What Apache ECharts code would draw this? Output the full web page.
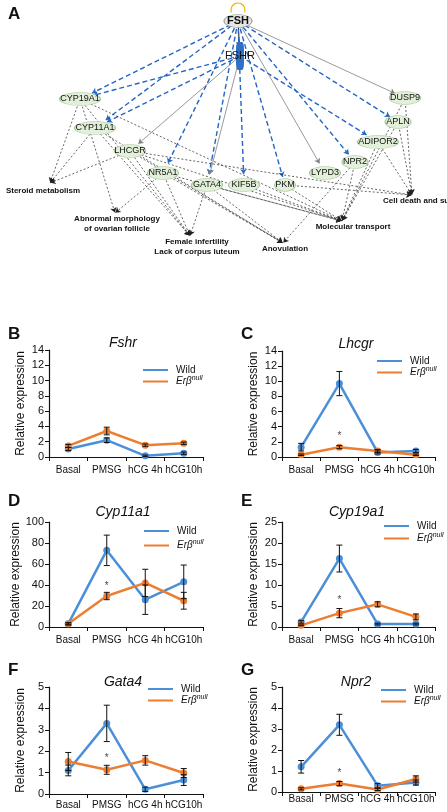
<!DOCTYPE html>
<html><head><meta charset="utf-8">
<script src="https://cdn.jsdelivr.net/npm/echarts/dist/echarts.min.js"></script>
<style>html,body{margin:0;padding:0;background:#fff}#c{width:447px;height:812px}</style>
</head><body><div id="c"></div>
<script>
// ---------- DATA ----------
const categories = ['Basal', 'PMSG', 'hCG 4h', 'hCG10h'];
const seriesNames = ['Wild', 'Erβnull'];

const fshrWild = [1.05, 2.2, 0.15, 0.5];
const fshrWildErr = [0.2, 0.3, 0.1, 0.15];
const fshrNull = [1.45, 3.4, 1.55, 1.8];
const fshrNullErr = [0.2, 0.5, 0.15, 0.15];

const lhcgrWild = [1.3, 9.7, 0.6, 0.8];
const lhcgrWildErr = [0.5, 1.6, 0.2, 0.2];
const lhcgrNull = [0.3, 1.3, 0.8, 0.3];
const lhcgrNullErr = [0.1, 0.2, 0.2, 0.1];

const cyp11Wild = [3, 73, 26, 43];
const cyp11WildErr = [1, 14.5, 14, 16];
const cyp11Null = [3, 29.5, 42, 25];
const cyp11NullErr = [1, 3.5, 13, 8];

const cyp19Wild = [1.2, 16.3, 0.7, 0.7];
const cyp19WildErr = [0.3, 3.2, 0.2, 0.2];
const cyp19Null = [0.4, 3.3, 5.4, 2.4];
const cyp19NullErr = [0.1, 1.1, 0.6, 0.7];

const gata4Wild = [1.1, 3.3, 0.22, 0.65];
const gata4WildErr = [0.25, 0.85, 0.1, 0.25];
const gata4Null = [1.52, 1.13, 1.57, 0.98];
const gata4NullErr = [0.42, 0.21, 0.22, 0.21];

const npr2Wild = [1.2, 3.2, 0.3, 0.45];
const npr2WildErr = [0.3, 0.5, 0.1, 0.12];
const npr2Null = [0.15, 0.4, 0.12, 0.62];
const npr2NullErr = [0.05, 0.1, 0.05, 0.15];

const panelTitles = ['Fshr', 'Lhcgr', 'Cyp11a1', 'Cyp19a1', 'Gata4', 'Npr2'];
const panelLetters = ['B', 'C', 'D', 'E', 'F', 'G'];
const yMaxes = [14, 14, 100, 25, 5, 5];
const yIntervals = [2, 2, 20, 5, 1, 1];
const starValues = [null, 2.7, 39, 6.4, 1.68, 0.9];
const starCategory = 1;

// network
const geneNodes = ['FSH', 'FSHR', 'CYP19A1', 'CYP11A1', 'LHCGR', 'NR5A1', 'GATA4', 'KIF5B', 'PKM', 'LYPD3', 'NPR2', 'ADIPOR2', 'APLN', 'DUSP9'];
const geneX = [238, 240, 80, 95, 130, 163, 207, 244, 285, 325, 355, 378, 398, 405];
const geneY = [21, 56, 99, 128, 151, 173, 185, 185, 185, 173, 162, 142, 122, 98];
const fnNodes = ['Steroid metabolism', 'Abnormal morphology\nof ovarian follicle', 'Female infertility\nLack of corpus luteum', 'Anovulation', 'Molecular transport', 'Cell death and survival'];
const fnX = [50, 115, 190, 283, 342, 412];
const fnY = [183, 213, 236, 243, 221, 195];
const blueEdges = [['FSH','CYP19A1'],['FSH','CYP11A1'],['FSHR','CYP19A1'],['FSHR','CYP11A1'],['FSH','NR5A1'],['FSH','GATA4'],['FSH','KIF5B'],['FSH','PKM'],['FSH','NPR2'],['FSHR','ADIPOR2'],['FSH','APLN']];
const grayEdges = [['FSH','DUSP9'],['FSH','LYPD3'],['FSHR','LHCGR'],['FSHR','GATA4']];
const fnEdges = [
  ['CYP19A1','Steroid metabolism'],['CYP19A1','Abnormal morphology\nof ovarian follicle'],['CYP19A1','Female infertility\nLack of corpus luteum'],['CYP19A1','Molecular transport'],
  ['CYP11A1','Steroid metabolism'],['CYP11A1','Female infertility\nLack of corpus luteum'],['CYP11A1','Anovulation'],
  ['LHCGR','Steroid metabolism'],['LHCGR','Female infertility\nLack of corpus luteum'],['LHCGR','Anovulation'],['LHCGR','Molecular transport'],['LHCGR','Cell death and survival'],
  ['NR5A1','Abnormal morphology\nof ovarian follicle'],['NR5A1','Female infertility\nLack of corpus luteum'],['NR5A1','Anovulation'],['NR5A1','Molecular transport'],
  ['GATA4','Female infertility\nLack of corpus luteum'],['GATA4','Anovulation'],['GATA4','Molecular transport'],
  ['KIF5B','Molecular transport'],['PKM','Cell death and survival'],['PKM','Molecular transport'],
  ['NPR2','Anovulation'],['NPR2','Molecular transport'],['ADIPOR2','Molecular transport'],['ADIPOR2','Cell death and survival'],
  ['APLN','Cell death and survival'],['APLN','Molecular transport'],['DUSP9','Cell death and survival'],['DUSP9','Molecular transport']
];

// ---------- BUILD ----------
const panelData = [
  [fshrWild, fshrWildErr, fshrNull, fshrNullErr],
  [lhcgrWild, lhcgrWildErr, lhcgrNull, lhcgrNullErr],
  [cyp11Wild, cyp11WildErr, cyp11Null, cyp11NullErr],
  [cyp19Wild, cyp19WildErr, cyp19Null, cyp19NullErr],
  [gata4Wild, gata4WildErr, gata4Null, gata4NullErr],
  [npr2Wild, npr2WildErr, npr2Null, npr2NullErr]
];
const layout = [
  {left: 49, top: 350, width: 154, height: 107},
  {left: 282, top: 351, width: 153, height: 106},
  {left: 49, top: 522, width: 154, height: 105},
  {left: 282, top: 522, width: 153, height: 105},
  {left: 49, top: 687, width: 154, height: 107},
  {left: 282, top: 687, width: 153, height: 105}
];
const xLabelMargin = [8, 8, 8, 8, 6, 2];
const titleX = [118, 351, 118, 352, 118, 351];
const titleCY = [339, 340, 508, 508, 678, 678];
const letterX = [3, 236, 3, 236, 3, 236];
const letterCY = [331, 331, 498, 498, 667, 667];
const legendX = [143, 377, 144, 384, 148, 381];
const legendCY = [371, 362, 532, 527, 690, 691];
const legendGap = [0, 0, 3, 1, 0, 0];

const BLUE = '#4b8fd8', ORANGE = '#ED7D31';
const FONT = 'Liberation Sans, Arial, sans-serif';

const grids = [{left: 0, top: 0, width: 447, height: 265}];
const xAxes = [{type: 'value', gridIndex: 0, min: 0, max: 447, show: false}];
const yAxes = [{type: 'value', gridIndex: 0, min: 0, max: 265, inverse: true, show: false}];
const titles = [{text: 'A', left: 3, top: 1, textStyle: {fontSize: 17, fontWeight: 'bold', color: '#111', fontFamily: FONT}}];
const legends = [];
const series = [];

function errRender(params, api) {
  const xi = api.value(0);
  const lo = api.coord([xi, api.value(1)]);
  const hi = api.coord([xi, api.value(2)]);
  const hw = 3;
  const st = {stroke: '#111', lineWidth: 1};
  return {type: 'group', children: [
    {type: 'line', shape: {x1: lo[0], y1: lo[1], x2: hi[0], y2: hi[1]}, style: st},
    {type: 'line', shape: {x1: hi[0] - hw, y1: hi[1], x2: hi[0] + hw, y2: hi[1]}, style: st},
    {type: 'line', shape: {x1: lo[0] - hw, y1: lo[1], x2: lo[0] + hw, y2: lo[1]}, style: st}
  ]};
}

panelData.forEach((pd, i) => {
  const gi = i + 1;
  const L = layout[i];
  grids.push({left: L.left, top: L.top, width: L.width, height: L.height});
  xAxes.push({type: 'category', gridIndex: gi, data: categories, boundaryGap: true,
    axisLine: {lineStyle: {color: '#111', width: 1.2}},
    axisTick: {show: true, length: 4, lineStyle: {color: '#111'}},
    axisLabel: {color: '#111', fontSize: 10, fontFamily: FONT, margin: xLabelMargin[i], interval: 0}});
  yAxes.push({type: 'value', gridIndex: gi, min: 0, max: yMaxes[i], interval: yIntervals[i],
    name: 'Relative expression', nameLocation: 'middle', nameGap: 22,
    nameTextStyle: {color: '#111', fontSize: 12, fontFamily: FONT},
    splitLine: {show: false},
    axisLine: {show: true, lineStyle: {color: '#111', width: 1.2}},
    axisTick: {show: true, length: 4, lineStyle: {color: '#111'}},
    axisLabel: {color: '#111', fontSize: 11, fontFamily: FONT, margin: 5}});
  titles.push({text: panelTitles[i], left: titleX[i], top: titleCY[i] - 8, textAlign: 'center',
    textStyle: {fontSize: 14, fontStyle: 'italic', fontWeight: 'normal', color: '#111', fontFamily: FONT}});
  titles.push({text: panelLetters[i], left: letterX[i], top: letterCY[i] - 10,
    textStyle: {fontSize: 17, fontWeight: 'bold', color: '#111', fontFamily: FONT}});
  legends.push({data: seriesNames, orient: 'vertical', left: legendX[i], top: legendCY[i] - 6,
    itemWidth: 25, itemHeight: 2, itemGap: legendGap[i], icon: 'rect', selectedMode: false,
    padding: 0,
    formatter: n => n === 'Wild' ? '{w|Wild}' : '{a|Erβ}{b|null}',
    textStyle: {fontFamily: FONT, color: '#111', padding: [0, 0, 0, 3],
      rich: {w: {fontSize: 10, lineHeight: 12, fontFamily: FONT, color: '#111'},
             a: {fontSize: 10, lineHeight: 12, fontStyle: 'italic', fontFamily: FONT, color: '#111'},
             b: {fontSize: 7, fontStyle: 'italic', fontFamily: FONT, color: '#111', verticalAlign: 'top', padding: [0, 0, 6, 0]}}}});
  const [w, we, n, ne] = pd;
  series.push({name: seriesNames[0], type: 'line', xAxisIndex: gi, yAxisIndex: gi, data: w,
    color: BLUE, lineStyle: {width: 2.5, color: BLUE}, symbol: 'circle', symbolSize: 7,
    itemStyle: {color: BLUE}, z: 2, animation: false});
  series.push({name: seriesNames[1], type: 'line', xAxisIndex: gi, yAxisIndex: gi, data: n,
    color: ORANGE, lineStyle: {width: 2.5, color: ORANGE}, symbol: 'circle', symbolSize: 7,
    itemStyle: {color: ORANGE}, z: 3, animation: false});
  series.push({type: 'custom', xAxisIndex: gi, yAxisIndex: gi, renderItem: errRender, z: 5,
    encode: {x: 0, y: [1, 2]}, animation: false,
    data: w.map((v, k) => [k, Math.max(0, v - we[k]), v + we[k]])});
  series.push({type: 'custom', xAxisIndex: gi, yAxisIndex: gi, renderItem: errRender, z: 5,
    encode: {x: 0, y: [1, 2]}, animation: false,
    data: n.map((v, k) => [k, Math.max(0, v - ne[k]), v + ne[k]])});
  if (starValues[i] !== null) {
    series.push({type: 'scatter', xAxisIndex: gi, yAxisIndex: gi, symbolSize: 1, z: 6,
      data: [[starCategory, starValues[i]]], animation: false,
      itemStyle: {color: 'rgba(0,0,0,0)'},
      label: {show: true, position: 'inside', formatter: '*', color: '#111', fontSize: 10, fontFamily: FONT}});
  }
});

// network nodes
const nodes = [];
geneNodes.forEach((g, k) => {
  let node = {name: g, value: [geneX[k], geneY[k]], symbol: 'circle', symbolSize: [g.length * 5 + 6, 13],
    itemStyle: {color: '#e2efd9', borderColor: '#a8c79a', borderWidth: 0.8},
    label: {show: true, position: 'inside', fontSize: 9, color: '#111', fontFamily: FONT}};
  if (g === 'FSH') {
    node.symbolSize = [28, 13];
    node.itemStyle = {color: '#e6e6e6', borderColor: '#9a9a9a', borderWidth: 0.8};
    node.label.fontSize = 11; node.label.fontWeight = 'bold';
  } else if (g === 'FSHR') {
    node.symbol = 'roundRect'; node.symbolSize = [8, 28];
    node.itemStyle = {color: '#2f6fc6'};
    node.label.fontSize = 11;
  }
  nodes.push(node);
});
const fnLabelOffset = [[-7, 8], [2, 11], [7, 11], [2, 6], [11, 6], [-29, 6]];
fnNodes.forEach((f, k) => {
  nodes.push({name: f, value: [fnX[k], fnY[k]], symbol: 'circle', symbolSize: 1,
    itemStyle: {color: 'rgba(0,0,0,0)'},
    label: {show: true, position: 'inside', offset: fnLabelOffset[k], align: k === 5 ? 'left' : 'center',
      fontSize: 8, fontWeight: 'bold', color: '#111', fontFamily: FONT, lineHeight: 10}});
});
const links = [];
links.push({source: 'FSH', target: 'FSHR', lineStyle: {color: '#111', width: 1, type: 'solid', opacity: 1}});
blueEdges.forEach(e => links.push({source: e[0], target: e[1], lineStyle: {color: '#2566c4', width: 1.4, type: [5, 3], opacity: 1}}));
grayEdges.forEach(e => links.push({source: e[0], target: e[1], lineStyle: {color: '#808080', width: 0.8, type: 'solid', opacity: 1}}));
fnEdges.forEach(e => links.push({source: e[0], target: e[1], lineStyle: {color: '#222', width: 0.7, type: [2, 2], opacity: 1}}));

series.push({type: 'graph', coordinateSystem: 'cartesian2d', xAxisIndex: 0, yAxisIndex: 0,
  data: nodes, links: links, edgeSymbol: ['none', 'arrow'], edgeSymbolSize: 5,
  lineStyle: {opacity: 1},
  animation: false, silent: true, z: 2});

const chart = echarts.init(document.getElementById('c'), null, {renderer: 'canvas'});
chart.setOption({
  backgroundColor: '#fff', animation: false,
  textStyle: {fontFamily: FONT},
  title: titles, legend: legends, grid: grids, xAxis: xAxes, yAxis: yAxes, series: series
});
// self-regulation loop on FSH, positioned through the network's axes
const fshPx = chart.convertToPixel({xAxisIndex: 0, yAxisIndex: 0}, [geneX[0], geneY[0]]);
chart.setOption({graphic: [{type: 'arc', silent: true, z: 10,
  shape: {cx: fshPx[0], cy: fshPx[1] - 11, r: 7, startAngle: 160 * Math.PI / 180, endAngle: 380 * Math.PI / 180, clockwise: true},
  style: {stroke: '#e8b800', fill: 'none', lineWidth: 1.2}}]});
</script></body></html>
